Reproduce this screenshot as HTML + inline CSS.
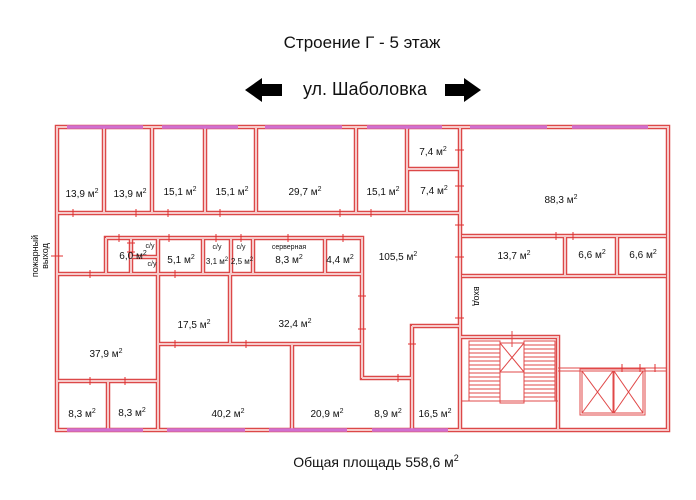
<!DOCTYPE html>
<html><head><meta charset="utf-8"><style>
html,body{margin:0;padding:0;background:#fff;width:696px;height:500px;overflow:hidden}
svg{display:block}
text{font-family:"Liberation Sans",Arial,sans-serif;fill:#111}
.w{stroke:#dc4848;stroke-width:4.5;fill:none;stroke-linecap:square}
.wi{stroke:#f6caca;stroke-width:2;fill:none;stroke-linecap:butt}
.t{stroke:#e04848;stroke-width:1;fill:none}
</style></head><body>
<svg width="696" height="500" viewBox="0 0 696 500" xmlns="http://www.w3.org/2000/svg">
<defs>
<path id="walls" fill="none" d="M57,127 H668 V430 H57 Z
M57,213 H459 M104,127 V213 M152,127 V213 M205,127 V213 M256,127 V213 M356,127 V213 M407,127 V213 M407,169 H459 M460,127 V430
M462,236 H666 M565,236 V275 M617,236 V275 M462,276 H666
M106,238 H362 V378 M106,238 V274 M57,274 H362 M158,238 V430 M203,238 V274 M231,238 V274 M253,238 V274 M325,238 V274 M131,238 V274 M131,257 H158
M230,274 V344 M158,344 H362 M57,381 H158 M108,381 V430 M292,344 V430
M362,378 H412 V430 M412,326 H460 M412,326 V378
M461,337 H558 V430"/>
</defs>
<text x="362" y="48" font-size="17" text-anchor="middle">Строение Г - 5 этаж</text>
<polygon points="245,90 262,78 262,84 282,84 282,96 262,96 262,102" fill="#000"/>
<polygon points="481,90 464,78 464,84 445,84 445,96 464,96 464,102" fill="#000"/>
<text x="365" y="95" font-size="18" text-anchor="middle">ул. Шаболовка</text>
<text x="376" y="467" font-size="14" text-anchor="middle">Общая площадь 558,6 м<tspan font-size="9" dy="-6">2</tspan></text>
<text transform="translate(38,256) rotate(-90)" font-size="9" text-anchor="middle">пожарный</text>
<text transform="translate(48,256) rotate(-90)" font-size="9" text-anchor="middle">выход</text>
<text transform="translate(474,296) rotate(90)" font-size="9" text-anchor="middle">вход</text>

<use href="#walls" class="w"/>
<use href="#walls" class="wi"/>

<g stroke="#d070d0" stroke-width="3.5">
<line x1="67" y1="127" x2="143" y2="127"/><line x1="162" y1="127" x2="238" y2="127"/><line x1="265" y1="127" x2="342" y2="127"/>
<line x1="367" y1="127" x2="442" y2="127"/><line x1="470" y1="127" x2="547" y2="127"/><line x1="572" y1="127" x2="648" y2="127"/>
<line x1="67" y1="430" x2="143" y2="430"/><line x1="167" y1="430" x2="245" y2="430"/><line x1="269" y1="430" x2="347" y2="430"/><line x1="372" y1="430" x2="448" y2="430"/>
</g>

<g class="t">
<rect x="469" y="341" width="31" height="60"/><rect x="500" y="343" width="24" height="60"/><rect x="524" y="341" width="31" height="60"/>
<line x1="500" y1="343" x2="524" y2="372"/><line x1="524" y1="343" x2="500" y2="372"/><line x1="500" y1="372" x2="524" y2="372"/>
<line x1="461" y1="401" x2="558" y2="401"/><line x1="512" y1="331" x2="512" y2="347"/>
<path d="M469,345H500M469,349H500M469,353H500M469,357H500M469,361H500M469,365H500M469,369H500M469,373H500M469,377H500M469,381H500M469,385H500M469,389H500M469,393H500M469,397H500
M524,345H555M524,349H555M524,353H555M524,357H555M524,361H555M524,365H555M524,369H555M524,373H555M524,377H555M524,381H555M524,385H555M524,389H555M524,393H555M524,397H555"/>
<line x1="558" y1="368" x2="666" y2="368"/><line x1="558" y1="371" x2="666" y2="371"/>
<rect x="582" y="371" width="31" height="42"/><rect x="614" y="371" width="29" height="42"/><rect x="580" y="369" width="65" height="46"/>
<line x1="582" y1="371" x2="613" y2="413"/><line x1="613" y1="371" x2="582" y2="413"/>
<line x1="614" y1="371" x2="643" y2="413"/><line x1="643" y1="371" x2="614" y2="413"/>
</g>

<g stroke="#e03030" stroke-width="1">
<path d="M73,209v8M136,209v8M168,209v8M220,209v8M340,209v8M371,209v8M455,150h9M455,186h9M455,225h9M455,257h9M455,318h9M51,256h12M119,234v8M169,234v8M216,234v8M241,234v8M288,234v8M343,234v8M90,270v8M175,270v8M90,377v8M125,377v8M175,340v8M246,340v8M358,329h8M358,296h8M398,374v8M408,344h8M556,232v8M573,232v8M622,364v8M640,364v8M655,364v8M127,243h8M127,252h8"/>
</g>

<g font-size="10">
<text x="82" y="197" text-anchor="middle">13,9 м<tspan font-size="7" dy="-4">2</tspan></text>
<text x="130" y="197" text-anchor="middle">13,9 м<tspan font-size="7" dy="-4">2</tspan></text>
<text x="180" y="195" text-anchor="middle">15,1 м<tspan font-size="7" dy="-4">2</tspan></text>
<text x="232" y="195" text-anchor="middle">15,1 м<tspan font-size="7" dy="-4">2</tspan></text>
<text x="305" y="195" text-anchor="middle">29,7 м<tspan font-size="7" dy="-4">2</tspan></text>
<text x="383" y="195" text-anchor="middle">15,1 м<tspan font-size="7" dy="-4">2</tspan></text>
<text x="433" y="155" text-anchor="middle">7,4 м<tspan font-size="7" dy="-4">2</tspan></text>
<text x="434" y="194" text-anchor="middle">7,4 м<tspan font-size="7" dy="-4">2</tspan></text>
<text x="561" y="203" text-anchor="middle">88,3 м<tspan font-size="7" dy="-4">2</tspan></text>
<text x="514" y="259" text-anchor="middle">13,7 м<tspan font-size="7" dy="-4">2</tspan></text>
<text x="592" y="258" text-anchor="middle">6,6 м<tspan font-size="7" dy="-4">2</tspan></text>
<text x="643" y="258" text-anchor="middle">6,6 м<tspan font-size="7" dy="-4">2</tspan></text>
<text x="398" y="260" text-anchor="middle">105,5 м<tspan font-size="7" dy="-4">2</tspan></text>
<text x="133" y="259" text-anchor="middle">6,0 м<tspan font-size="7" dy="-4">2</tspan></text>
<text x="181" y="263" text-anchor="middle">5,1 м<tspan font-size="7" dy="-4">2</tspan></text>
<text x="217" y="264" text-anchor="middle" font-size="8">3,1 м<tspan font-size="6" dy="-3">2</tspan></text>
<text x="242" y="264" text-anchor="middle" font-size="8">2,5 м<tspan font-size="6" dy="-3">2</tspan></text>
<text x="289" y="263" text-anchor="middle">8,3 м<tspan font-size="7" dy="-4">2</tspan></text>
<text x="340" y="263" text-anchor="middle">4,4 м<tspan font-size="7" dy="-4">2</tspan></text>
<text x="106" y="357" text-anchor="middle">37,9 м<tspan font-size="7" dy="-4">2</tspan></text>
<text x="194" y="328" text-anchor="middle">17,5 м<tspan font-size="7" dy="-4">2</tspan></text>
<text x="295" y="327" text-anchor="middle">32,4 м<tspan font-size="7" dy="-4">2</tspan></text>
<text x="82" y="417" text-anchor="middle">8,3 м<tspan font-size="7" dy="-4">2</tspan></text>
<text x="132" y="416" text-anchor="middle">8,3 м<tspan font-size="7" dy="-4">2</tspan></text>
<text x="228" y="417" text-anchor="middle">40,2 м<tspan font-size="7" dy="-4">2</tspan></text>
<text x="327" y="417" text-anchor="middle">20,9 м<tspan font-size="7" dy="-4">2</tspan></text>
<text x="388" y="417" text-anchor="middle">8,9 м<tspan font-size="7" dy="-4">2</tspan></text>
<text x="435" y="417" text-anchor="middle">16,5 м<tspan font-size="7" dy="-4">2</tspan></text>
</g>
<g font-size="7">
<text x="150" y="248" text-anchor="middle">с/у</text>
<text x="152" y="266" text-anchor="middle">с/у</text>
<text x="217" y="249" text-anchor="middle">с/у</text>
<text x="241" y="249" text-anchor="middle">с/у</text>
<text x="289" y="249" text-anchor="middle">серверная</text>
</g>
</svg>
</body></html>
